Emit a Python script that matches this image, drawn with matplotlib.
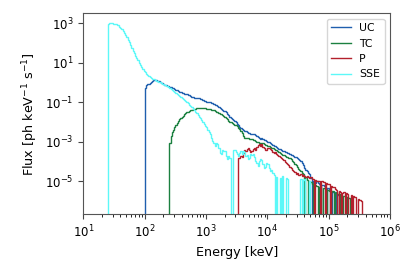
import numpy as np
import matplotlib
matplotlib.use("Agg")
import matplotlib.pyplot as plt
from matplotlib.ticker import FixedLocator, NullLocator

# Histogram bin width in dex (log10 keV) and first bin edge of each series
bin_dex = 0.02
series_names = ["UC", "TC", "P", "SSE"]
series_colors = ["#1f5fae", "#1b8040", "#b3202c", "#5cf8f8"]
start_log_energy = {"UC": 2.00, "TC": 2.40, "P": 3.52, "SSE": 1.40}

# log10 flux per bin (ph keV^-1 s^-1); -99 marks an empty bin
uc_log_flux = [
    -0.25, -0.12, -0.06, -0.04, -0.02, 0.05, 0.11, 0.14, 0.15, 0.13,
    0.10, 0.07, 0.04, 0.01, -0.02, -0.05, -0.09, -0.13, -0.16, -0.18,
    -0.21, -0.23, -0.26, -0.29, -0.32, -0.35, -0.39, -0.42, -0.46, -0.48,
    -0.50, -0.52, -0.55, -0.57, -0.59, -0.62, -0.64, -0.67, -0.71, -0.74,
    -0.75, -0.76, -0.77, -0.78, -0.79, -0.81, -0.84, -0.87, -0.90, -0.93,
    -0.95, -0.96, -0.97, -0.99, -1.02, -1.05, -1.08, -1.11, -1.14, -1.17,
    -1.21, -1.26, -1.31, -1.36, -1.41, -1.45, -1.50, -1.56, -1.64, -1.72,
    -1.78, -1.84, -1.89, -1.95, -2.01, -2.08, -2.16, -2.23, -2.29, -2.33,
    -2.37, -2.42, -2.46, -2.49, -2.52, -2.55, -2.57, -2.60, -2.58, -2.62,
    -2.65, -2.70, -2.76, -2.80, -2.83, -2.82, -2.85, -2.88, -2.92, -2.95,
    -2.98, -3.01, -3.05, -3.09, -3.13, -3.18, -3.21, -3.25, -3.30, -3.33,
    -3.37, -3.41, -3.44, -3.47, -3.50, -3.52, -3.56, -3.58, -3.60, -3.64,
    -3.68, -3.71, -3.74, -3.78, -3.82, -3.86, -3.91, -3.97, -4.05, -4.15,
    -4.30, -4.40, -4.48, -4.55, -4.62, -4.80, -99, -4.95, -5.05, -5.10,
    -5.00, -5.08, -5.15, -99, -5.20, -5.18, -5.25, -5.30, -99, -5.32,
    -5.40, -5.45, -99, -5.52, -5.55, -99, -5.62, -5.68, -99, -5.70,
]
tc_log_flux = [
    -3.05, -2.72, -2.50, -2.38, -2.26, -2.14, -2.05, -1.95, -1.85, -1.80,
    -1.72, -1.66, -1.60, -1.55, -1.50, -1.47, -1.43, -1.40, -1.38, -1.35,
    -1.33, -1.32, -1.30, -1.30, -1.29, -1.29, -1.28, -1.29, -1.29, -1.30,
    -1.31, -1.32, -1.34, -1.35, -1.37, -1.38, -1.40, -1.43, -1.46, -1.49,
    -1.53, -1.56, -1.60, -1.64, -1.69, -1.73, -1.78, -1.84, -1.92, -1.97,
    -2.00, -2.04, -2.08, -2.12, -2.16, -2.21, -2.28, -2.34, -2.42, -2.52,
    -2.68, -2.80, -2.78, -2.82, -2.80, -2.84, -2.86, -2.85, -2.90, -2.92,
    -2.96, -2.98, -3.02, -3.05, -3.03, -3.06, -3.07, -3.10, -3.14, -3.17,
    -3.19, -3.22, -3.26, -3.28, -3.31, -3.35, -3.38, -3.42, -3.47, -3.52,
    -3.55, -3.60, -3.64, -3.68, -3.70, -3.74, -3.78, -3.80, -3.83, -3.88,
    -3.95, -4.02, -4.10, -4.16, -4.25, -4.35, -4.42, -4.48, -4.55, -4.60,
    -99, -4.75, -4.90, -99, -5.00, -5.05, -5.12, -99, -5.18, -5.20,
    -5.22, -99, -5.28, -5.30, -99, -5.33, -5.35, -5.40, -99, -5.45,
    -5.48, -99, -5.52, -5.50, -99, -5.58, -5.55, -5.62, -99, -5.65,
    -5.68, -99, -5.72, -5.75, -99, -5.80, -5.85,
]
p_log_flux = [
    -3.82, -3.80, -3.72, -3.76, -3.55, -3.42, -3.45, -3.35, -3.32, -3.40,
    -3.50, -3.45, -3.35, -3.30, -3.38, -3.25, -3.15, -3.10, -3.18, -3.12,
    -3.25, -3.30, -3.38, -3.42, -3.30, -3.28, -3.35, -3.40, -3.50, -3.55,
    -3.52, -3.62, -3.68, -3.72, -3.76, -3.82, -3.88, -3.92, -4.00, -4.05,
    -4.12, -4.18, -4.25, -4.30, -4.40, -4.48, -4.54, -4.60, -4.55, -4.65,
    -4.68, -4.62, -4.70, -4.66, -4.72, -4.75, -4.70, -4.78, -4.80, -4.76,
    -4.85, -4.88, -99, -4.92, -4.95, -4.98, -4.95, -99, -5.00, -5.03,
    -5.05, -99, -5.08, -5.12, -5.15, -99, -5.22, -5.28, -5.30, -5.38,
    -5.45, -99, -5.50, -5.55, -99, -5.58, -5.55, -99, -5.60, -5.62,
    -99, -99, -5.70, -99, -5.75, -5.80, -99, -99, -5.90, -5.95,
    -6.00,
]
sse_log_flux = [
    2.98, 3.00, 3.00, 3.00, 2.99, 2.98, 2.96, 2.94, 2.90, 2.84,
    2.78, 2.70, 2.62, 2.52, 2.42, 2.30, 2.17, 2.04, 1.91, 1.77,
    1.63, 1.50, 1.37, 1.25, 1.13, 1.01, 0.90, 0.79, 0.69, 0.60,
    0.52, 0.45, 0.39, 0.34, 0.29, 0.25, 0.21, 0.18, 0.14, 0.11,
    0.08, 0.05, 0.02, -0.01, -0.04, -0.07, -0.11, -0.14, -0.18, -0.22,
    -0.27, -0.31, -0.36, -0.41, -0.45, -0.50, -0.55, -0.61, -0.66, -0.71,
    -0.77, -0.83, -0.88, -0.94, -0.99, -1.05, -1.11, -1.18, -1.25, -1.33,
    -1.40, -1.47, -1.55, -1.63, -1.72, -1.80, -1.90, -1.99, -2.08, -2.17,
    -2.24, -2.38, -2.50, -2.62, -2.80, -2.95, -3.05, -3.22, -3.05, -3.12,
    -3.30, -3.55, -3.62, -3.40, -3.48, -3.45, -3.70, -3.85, -3.70, -3.80,
    -99, -99, -3.42, -3.38, -3.50, -3.62, -3.70, -3.55, -3.48, -3.62,
    -3.45, -3.50, -3.72, -3.65, -3.85, -3.80, -3.60, -3.68, -3.62, -3.75,
    -3.95, -4.05, -4.20, -3.95, -3.85, -3.92, -4.10, -4.30, -4.25, -4.05,
    -4.10, -4.30, -4.48, -4.40, -4.55, -4.65, -99, -4.75, -99, -99,
    -4.80, -99, -4.72, -99, -99, -4.80, -4.85, -99, -99, -99,
    -99, -99, -99, -99, -99, -99, -99, -4.85, -99, -4.90,
    -4.88, -99, -99, -99, -4.95,
]
log_flux = {"UC": uc_log_flux, "TC": tc_log_flux, "P": p_log_flux, "SSE": sse_log_flux}

x_limits = (1e1, 1e6)
y_limits = (10 ** -6.646, 10 ** 3.506)
y_ticks = [1e-5, 1e-3, 1e-1, 1e1, 1e3]

fig = plt.figure(figsize=(4.16, 2.77), dpi=100)
ax = fig.add_axes([0.2007, 0.2274, 0.7368, 0.7239])

for name, color in zip(series_names, series_colors):
    lf = np.array(log_flux[name], dtype=float)
    vals = np.where(lf < -50, 0.0, 10.0 ** lf)
    edges = 10.0 ** (start_log_energy[name] + bin_dex * np.arange(len(vals) + 1))
    ax.stairs(vals, edges, baseline=0, color=color, lw=1.0, label=name)

ax.set_xscale("log")
ax.set_yscale("log")
ax.set_xlim(*x_limits)
ax.set_ylim(*y_limits)
ax.yaxis.set_major_locator(FixedLocator(y_ticks))
ax.yaxis.set_minor_locator(NullLocator())
ax.tick_params(labelsize=8.5, colors="#444444", labelcolor="black")
for s in ax.spines.values():
    s.set_color("#555555")
ax.set_xlabel("Energy [keV]", fontsize=9.2)
ax.set_ylabel("Flux [ph keV$^{-1}$ s$^{-1}$]", fontsize=9.2)
ax.legend(loc="upper right", fontsize=7.8, handlelength=1.8)

fig.savefig("out.png", dpi=100)
